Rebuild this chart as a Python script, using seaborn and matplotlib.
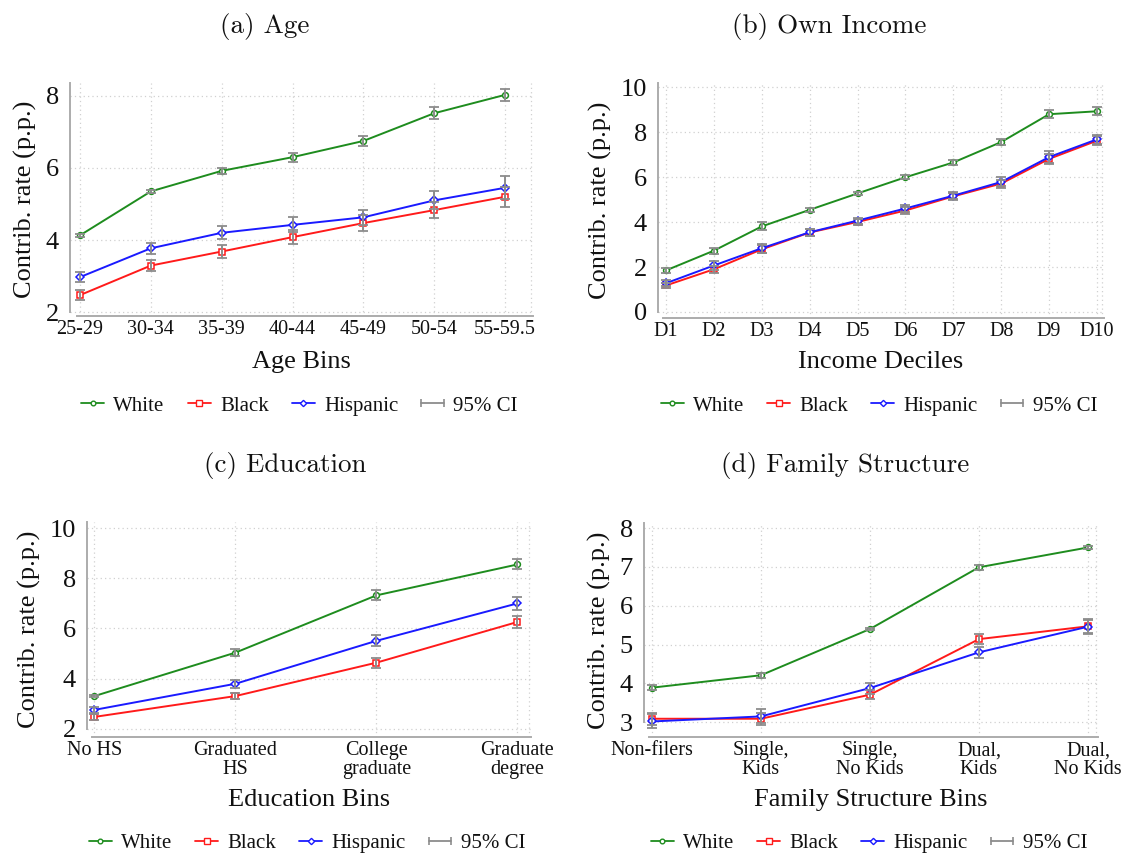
import numpy as np
import pandas as pd
import matplotlib
matplotlib.use("Agg")
import matplotlib.pyplot as plt
from matplotlib.lines import Line2D
from matplotlib.legend_handler import HandlerLine2D
import seaborn as sns

# ---------------- data ----------------
groups = ["White", "Black", "Hispanic"]

age_bins = ["25-29", "30-34", "35-39", "40-44", "45-49", "50-54", "55-59.5"]
age_white = [4.13, 5.35, 5.92, 6.30, 6.75, 7.52, 8.03]
age_white_ci = [0.04, 0.05, 0.09, 0.12, 0.14, 0.16, 0.16]
age_black = [2.47, 3.29, 3.68, 4.08, 4.47, 4.83, 5.20]
age_black_ci = [0.14, 0.16, 0.17, 0.19, 0.22, 0.23, 0.28]
age_hisp = [2.97, 3.77, 4.20, 4.42, 4.63, 5.10, 5.45]
age_hisp_ci = [0.14, 0.15, 0.18, 0.21, 0.21, 0.25, 0.32]

income_bins = ["D1", "D2", "D3", "D4", "D5", "D6", "D7", "D8", "D9", "D10"]
income_white = [1.85, 2.73, 3.81, 4.55, 5.28, 6.00, 6.66, 7.57, 8.81, 8.94]
income_white_ci = [0.10, 0.13, 0.18, 0.08, 0.05, 0.08, 0.10, 0.15, 0.18, 0.17]
income_black = [1.18, 1.90, 2.79, 3.54, 4.01, 4.52, 5.15, 5.72, 6.82, 7.63]
income_black_ci = [0.12, 0.15, 0.18, 0.15, 0.13, 0.15, 0.16, 0.18, 0.22, 0.20]
income_hisp = [1.28, 2.07, 2.84, 3.55, 4.07, 4.61, 5.18, 5.79, 6.90, 7.69]
income_hisp_ci = [0.13, 0.20, 0.20, 0.15, 0.13, 0.15, 0.16, 0.20, 0.25, 0.20]

edu_bins = ["No HS", "Graduated\nHS", "College\ngraduate", "Graduate\ndegree"]
edu_white = [3.31, 5.04, 7.32, 8.55]
edu_white_ci = [0.05, 0.15, 0.20, 0.20]
edu_black = [2.48, 3.31, 4.64, 6.26]
edu_black_ci = [0.12, 0.13, 0.20, 0.25]
edu_hisp = [2.76, 3.80, 5.51, 7.00]
edu_hisp_ci = [0.13, 0.15, 0.22, 0.27]

fam_bins = ["Non-filers", "Single,\nKids", "Single,\nNo Kids", "Dual,\nKids", "Dual,\nNo Kids"]
fam_white = [3.89, 4.21, 5.40, 6.99, 7.50]
fam_white_ci = [0.07, 0.06, 0.03, 0.06, 0.05]
fam_black = [3.09, 3.09, 3.71, 5.14, 5.47]
fam_black_ci = [0.15, 0.15, 0.12, 0.12, 0.18]
fam_hisp = [3.02, 3.15, 3.88, 4.80, 5.46]
fam_hisp_ci = [0.18, 0.18, 0.14, 0.15, 0.18]

# ---------------- style ----------------
sns.set_theme(style="white")
plt.rcParams["font.family"] = ["Liberation Serif", "DejaVu Serif"]

colors = {"White": "#1e8c1e", "Black": "#ff1a1a", "Hispanic": "#1a1aff"}
markers = {"White": "o", "Black": "s", "Hispanic": "D"}
msizes = {"White": 4.2, "Black": 4.6, "Hispanic": 4.0}
ci_color = "#8c8c8c"
grid_color = "#d0d0d0"
spine_color = "#acacac"

W, H = 1132, 855
fig = plt.figure(figsize=(W / 100, H / 100), dpi=100)


def px_axes(left, top, right, bottom):
    return fig.add_axes([left / W, 1 - bottom / H, (right - left) / W, (bottom - top) / H])


panels = [
    dict(box=(70, 83, 533, 316), labels=age_bins, vals=(age_white, age_black, age_hisp),
         cis=(age_white_ci, age_black_ci, age_hisp_ci), xlim=(-0.141, 6.395),
         ylim=(1.89, 8.36), yticks=[2, 4, 6, 8], xlabel="Age Bins",
         title="(a) Age", title_xy=(265, 27), legend_y=406, xlabel_y=362),
    dict(box=(658, 83, 1104, 318), labels=income_bins, vals=(income_white, income_black, income_hisp),
         cis=(income_white_ci, income_black_ci, income_hisp_ci), xlim=(-0.167, 9.146),
         ylim=(-0.27, 10.2), yticks=[0, 2, 4, 6, 8, 10], xlabel="Income Deciles",
         title="(b) Own Income", title_xy=(829, 27), legend_y=406, xlabel_y=362),
    dict(box=(87, 522, 531, 737), labels=edu_bins, vals=(edu_white, edu_black, edu_hisp),
         cis=(edu_white_ci, edu_black_ci, edu_hisp_ci), xlim=(-0.053, 3.096),
         ylim=(1.68, 10.24), yticks=[2, 4, 6, 8, 10], xlabel="Education Bins",
         title="(c) Education", title_xy=(285, 465), legend_y=843, xlabel_y=800),
    dict(box=(644, 523, 1098, 737), labels=fam_bins, vals=(fam_white, fam_black, fam_hisp),
         cis=(fam_white_ci, fam_black_ci, fam_hisp_ci), xlim=(-0.073, 4.092),
         ylim=(2.62, 8.13), yticks=[3, 4, 5, 6, 7, 8], xlabel="Family Structure Bins",
         title="(d) Family Structure", title_xy=(845, 465), legend_y=843, xlabel_y=800),
]

for p in panels:
    ax = px_axes(*p["box"])
    n = len(p["labels"])
    pos = np.arange(n)
    df = pd.concat([
        pd.DataFrame({"pos": pos, "value": v, "ci": c, "group": g})
        for g, v, c in zip(groups, p["vals"], p["cis"])
    ], ignore_index=True)

    # dotted grid at category positions and y ticks, plus dotted right border
    for x in pos:
        ax.axvline(x, color=grid_color, lw=0.9, ls=(0, (1, 2.5)), zorder=0)
    for y in p["yticks"]:
        ax.axhline(y, color=grid_color, lw=0.9, ls=(0, (1, 2.5)), zorder=0)
    ax.axvline(p["xlim"][1] - 0.004 * (p["xlim"][1] - p["xlim"][0]),
               color=grid_color, lw=0.9, ls=(0, (1, 2.5)), zorder=0)

    for g in groups:
        sub = df[df["group"] == g]
        sns.lineplot(data=sub, x="pos", y="value", ax=ax, color=colors[g], lw=1.4,
                     marker=markers[g], markersize=msizes[g], markerfacecolor="white",
                     markeredgecolor=colors[g], markeredgewidth=1.1, sort=False,
                     legend=False, zorder=3)
    for g in groups:
        sub = df[df["group"] == g]
        ax.errorbar(sub["pos"], sub["value"], yerr=sub["ci"], fmt="none",
                    ecolor=ci_color, elinewidth=1.4, capsize=3.5, capthick=1.3, zorder=4)

    ax.set_xlim(*p["xlim"])
    ax.set_ylim(*p["ylim"])
    ax.set_xticks(pos)
    ax.set_xticklabels(p["labels"], fontsize=14.5, linespacing=1.0)
    ax.set_yticks(p["yticks"])
    ax.set_yticklabels([str(t) for t in p["yticks"]], fontsize=19)
    ax.tick_params(axis="x", length=0, pad=3, colors="#111111")
    ax.tick_params(axis="y", length=6, width=1.2, color=spine_color, pad=2, labelcolor="#111111")
    ax.set_xlabel("")
    ax.set_ylabel("Contrib. rate (p.p.)", fontsize=19, color="#111111", labelpad=6)

    for s in ["top", "right"]:
        ax.spines[s].set_visible(False)
    for s in ["left", "bottom"]:
        ax.spines[s].set_color(spine_color)
        ax.spines[s].set_linewidth(1.4)
    ax.spines["left"].set_bounds(p["yticks"][0], p["ylim"][1])
    ax.spines["bottom"].set_bounds(-0.04 * (pos[-1] / 6 if n > 1 else 1), p["xlim"][1])

    cx = (p["box"][0] + p["box"][2]) / 2
    fig.text(cx / W, 1 - p["xlabel_y"] / H, p["xlabel"], fontsize=19, ha="center",
             va="center", color="#111111")
    fig.text(p["title_xy"][0] / W, 1 - p["title_xy"][1] / H, p["title"],
             family=["cmr10", "DejaVu Serif"], fontsize=19.5, ha="center", va="center",
             color="#111111")

    handles = [Line2D([0], [0], color=colors[g], lw=1.3, marker=markers[g],
                      markersize=msizes[g] * 0.8, markerfacecolor="white",
                      markeredgecolor=colors[g], markeredgewidth=1.0) for g in groups]
    ci_handle = Line2D([0], [0], color=ci_color, lw=1.3, marker="|", markersize=6,
                       markeredgewidth=1.2)
    handles.append(ci_handle)
    leg = fig.legend(handles, groups + ["95% CI"], loc="center",
                     bbox_to_anchor=((cx - 2) / W, 1 - p["legend_y"] / H), ncol=4,
                     frameon=False, fontsize=15, handlelength=1.1, handletextpad=0.45,
                     columnspacing=1.1, borderpad=0,
                     handler_map={ci_handle: HandlerLine2D(numpoints=2, marker_pad=0)})
    for t in leg.get_texts():
        t.set_color("#111111")

fig.savefig("out.png", dpi=100, facecolor="white")
